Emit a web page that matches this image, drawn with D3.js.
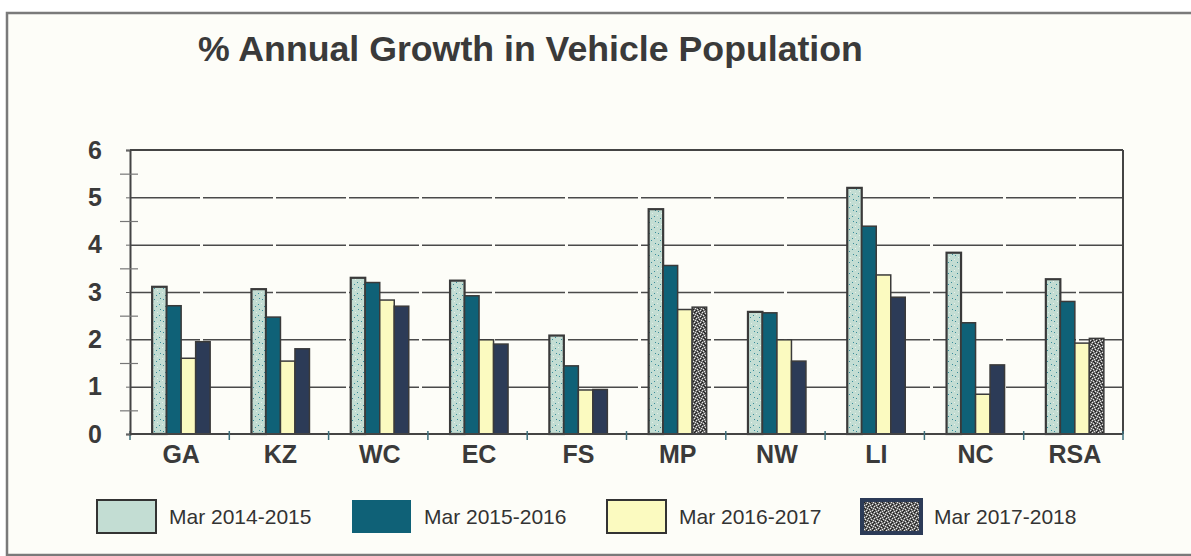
<!DOCTYPE html>
<html><head><meta charset="utf-8">
<script src="https://cdn.jsdelivr.net/npm/d3@7"></script>
<style>
html,body{margin:0;padding:0;background:#ffffff;}
svg{display:block;}
text{font-family:"Liberation Sans",Arial,sans-serif;}
</style></head>
<body>
<svg id="chart" width="1191" height="556"></svg>
<script>
const categories = ["GA","KZ","WC","EC","FS","MP","NW","LI","NC","RSA"];
const seriesNames = ["Mar 2014-2015","Mar 2015-2016","Mar 2016-2017","Mar 2017-2018"];
const s2014_15 = [3.11,3.06,3.30,3.24,2.08,4.75,2.58,5.20,3.83,3.27];
const s2015_16 = [2.71,2.47,3.20,2.92,1.44,3.56,2.56,4.39,2.35,2.80];
const s2016_17 = [1.60,1.54,2.83,1.99,0.93,2.63,1.99,3.36,0.84,1.92];
const s2017_18 = [1.95,1.80,2.70,1.90,0.94,2.68,1.54,2.89,1.46,2.02];
const yTicks = [0,1,2,3,4,5,6];
const yMinorTicks = [0.5,1.5,2.5,3.5,4.5,5.5];
const chartTitle = "% Annual Growth in Vehicle Population";

(function(){
const seriesValues = [s2014_15, s2015_16, s2016_17, s2017_18];
const fills = ["url(#lightSpeck)", "#0f6177", "#fbfac0", "#2c3b57"];
const speckledCats = ["MP","RSA"];

const svg = d3.select("#chart");
const defs = svg.append("defs");

const p1 = defs.append("pattern").attr("id","lightSpeck").attr("patternUnits","userSpaceOnUse")
  .attr("width",9).attr("height",11);
p1.append("rect").attr("width",9).attr("height",11).attr("fill","#c3ddd3");
[[1,2],[6,7],[3,9],[7,1]].forEach(([a,b])=>p1.append("rect").attr("x",a).attr("y",b).attr("width",1).attr("height",1).attr("fill","#3a8c9a"));
[[4,4],[0,6]].forEach(([a,b])=>p1.append("rect").attr("x",a).attr("y",b).attr("width",1).attr("height",1).attr("fill","#e6f0ea"));

const p2 = defs.append("pattern").attr("id","graySpeck").attr("patternUnits","userSpaceOnUse")
  .attr("width",6).attr("height",6);
p2.append("rect").attr("width",6).attr("height",6).attr("fill","#6a6a6a");
[[0,0],[3,1],[1,3],[4,4],[2,5],[5,2]].forEach(([a,b])=>p2.append("rect").attr("x",a).attr("y",b).attr("width",1).attr("height",1).attr("fill","#e8e8e8"));
[[1,1],[4,0],[0,4],[3,3],[5,5],[2,2]].forEach(([a,b])=>p2.append("rect").attr("x",a).attr("y",b).attr("width",1).attr("height",1).attr("fill","#1e1e1e"));

svg.append("rect").attr("x",7).attr("y",13).attr("width",1200).attr("height",542)
  .attr("fill","#fdfdf8").attr("stroke","#7a7a7a").attr("stroke-width",2.5);

svg.append("text").attr("x",198).attr("y",61).attr("font-size",35.7).attr("font-weight","bold")
  .attr("fill","#3a3a3a").text(chartTitle);

const pL = 130, pR = 1123, pT = 150, pB = 434;
const x = d3.scaleBand().domain(categories).range([pL, pR]).padding(0);
const y = d3.scaleLinear().domain([0,6]).range([pB, pT]);
const groupW = 58;
const x1 = d3.scaleBand().domain(seriesNames).range([0, groupW]).padding(0);
const offset = (x.bandwidth() - groupW)/2 + 1.5;

const grid = svg.append("g").attr("transform",`translate(${pL},0)`)
  .call(d3.axisLeft(y).tickValues(yTicks.filter(t=>t>0 && t<6)).tickSize(-(pR-pL)).tickFormat(""));
grid.select(".domain").remove();
grid.selectAll("line").attr("stroke","#4a4a4a").attr("stroke-width",1.5).attr("stroke-dasharray","70,3");

svg.append("line").attr("x1",pL).attr("x2",pR).attr("y1",y(6)).attr("y2",y(6)).attr("stroke","#444").attr("stroke-width",2);
svg.append("line").attr("x1",pR).attr("x2",pR).attr("y1",y(6)).attr("y2",y(0)).attr("stroke","#444").attr("stroke-width",2);

const bars = [];
categories.forEach((c,i)=>{
  seriesNames.forEach((s,j)=>{
    bars.push({c, s, j, v: seriesValues[j][i]});
  });
});
svg.append("g").selectAll("rect").data(bars).join("rect")
  .attr("x", d=>x(d.c)+offset+x1(d.s))
  .attr("y", d=>y(d.v))
  .attr("width", x1.bandwidth())
  .attr("height", d=>y(0)-y(d.v))
  .attr("fill", d=> (d.j===3 && speckledCats.includes(d.c)) ? "url(#graySpeck)" : fills[d.j])
  .attr("stroke","#3a3a3a").attr("stroke-width", d=>d.j===0?2.2:1.5);

svg.append("line").attr("x1",pL).attr("x2",pR).attr("y1",y(0)).attr("y2",y(0)).attr("stroke","#444").attr("stroke-width",2);

const bounds = categories.map(c=>x(c)).concat([x.range()[1]]);
svg.append("g").selectAll("line").data(bounds).join("line")
  .attr("x1",d=>d).attr("x2",d=>d).attr("y1",y(0)-3).attr("y2",y(0)+6)
  .attr("stroke","#3c6f7c").attr("stroke-width",1.5);

const xAxis = svg.append("g").attr("transform",`translate(${offset+groupW/2-x.bandwidth()/2},${y(0)})`)
  .call(d3.axisBottom(x).tickSize(0).tickPadding(11));
xAxis.select(".domain").remove();
xAxis.selectAll("text").attr("font-size",25).attr("font-weight","bold").attr("fill","#3a3a3a")
  .attr("font-family","Liberation Sans, Arial, sans-serif");

const yAxis = svg.append("g").attr("transform",`translate(${pL},0)`)
  .call(d3.axisLeft(y).tickValues(yTicks).tickSize(4).tickPadding(24).tickFormat(d3.format("d")));
yAxis.select(".domain").attr("stroke","#444").attr("stroke-width",2);
yAxis.selectAll("line").attr("stroke","#666");
yAxis.selectAll("text").attr("font-size",25).attr("font-weight","bold").attr("fill","#3a3a3a")
  .attr("font-family","Liberation Sans, Arial, sans-serif");

const yMinor = svg.append("g").attr("transform",`translate(${pL+8},0)`)
  .call(d3.axisLeft(y).tickValues(yMinorTicks).tickSize(18).tickFormat(""));
yMinor.select(".domain").remove();
yMinor.selectAll("line").attr("stroke","#777").attr("stroke-width",1.2);

const legendX = d3.scaleBand().domain(seriesNames).range([97, 97+255*4]);
const lg = svg.append("g").selectAll("g").data(seriesNames).join("g")
  .attr("transform", d=>`translate(${legendX(d)},500)`);
lg.append("rect").attr("width",59).attr("height",33)
  .attr("fill",(d,i)=> i===0 ? "#c3ddd3" : (i===3 ? "url(#graySpeck)" : fills[i]))
  .attr("stroke",(d,i)=> i===1 ? "none" : (i===3 ? "#2c3b57" : "#333"))
  .attr("stroke-width",(d,i)=> i===3 ? 4 : 2);
lg.append("text").attr("x",72).attr("y",24).attr("font-size",21).attr("fill","#333").text(d=>d);
})();
</script>
</body></html>
